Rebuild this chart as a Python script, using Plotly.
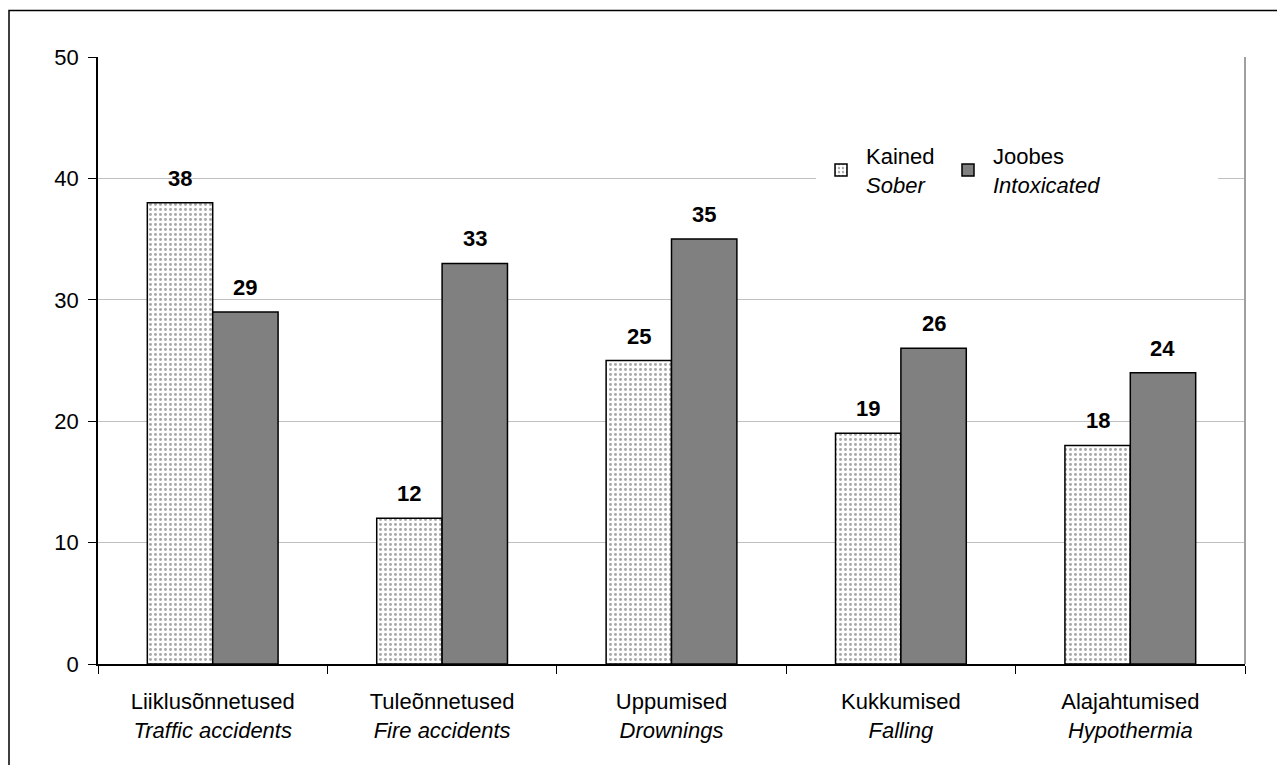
import plotly.graph_objects as go

categories = [
    "Liiklusõnnetused<br><i>Traffic accidents</i>",
    "Tuleõnnetused<br><i>Fire accidents</i>",
    "Uppumised<br><i>Drownings</i>",
    "Kukkumised<br><i>Falling</i>",
    "Alajahtumised<br><i>Hypothermia</i>",
]
sober = [38, 12, 25, 19, 18]
intoxicated = [29, 33, 35, 26, 24]
series_names = ["Kained<br><i>Sober</i>", "Joobes<br><i>Intoxicated</i>"]
y_ticks = [0, 10, 20, 30, 40, 50]

W, H = 1285, 765
L, R, T, B = 90, 48, 49, 109
pw, ph = W - L - R, H - T - B
BARGAP = 0.43

font = "Liberation Sans, Arial, sans-serif"
FS = 22

fig = go.Figure()
fig.add_trace(go.Bar(
    x=categories, y=sober, name=series_names[0], legend="legend",
    marker=dict(color="white", line=dict(color="black", width=1.5),
                pattern=dict(shape=".", fgcolor="#505050", bgcolor="white", size=5, solidity=0.28)),
))
fig.add_trace(go.Bar(
    x=categories, y=intoxicated, name=series_names[1], legend="legend2",
    marker=dict(color="#808080", line=dict(color="black", width=1.5)),
))

# value labels above bars (offset from category centre by half a bar)
cat_px = pw / len(categories)
bar_px = cat_px * (1 - BARGAP) / 2
annotations = []
for series, sign in ((sober, -1), (intoxicated, 1)):
    for cat, val in zip(categories, series):
        annotations.append(dict(
            x=cat, y=val, xref="x", yref="y", text=f"<b>{val}</b>",
            showarrow=False, xshift=sign * bar_px / 2, yshift=10,
            yanchor="bottom", xanchor="center",
            font=dict(size=FS, family=font, color="black"),
        ))

def px_to_paper_x(px):
    return (px - L) / pw

def px_to_paper_y(py):
    return 1 - (py - T) / ph

legend_common = dict(
    orientation="h", xanchor="left", yanchor="top",
    bgcolor="white", borderwidth=0,
    font=dict(size=FS, family=font, color="black"),
    itemwidth=40, entrywidthmode="pixels",
)

fig.update_layout(
    width=W, height=H,
    margin=dict(l=L, r=R, t=T, b=B),
    paper_bgcolor="white", plot_bgcolor="white",
    barmode="group", bargap=BARGAP, bargroupgap=0,
    font=dict(family=font, size=FS, color="black"),
    showlegend=True,
    legend=dict(x=px_to_paper_x(808), y=px_to_paper_y(127), entrywidth=74, **legend_common),
    legend2=dict(x=px_to_paper_x(935), y=px_to_paper_y(127), entrywidth=220, **legend_common),
    annotations=annotations,
    xaxis=dict(
        showline=True, linecolor="black", linewidth=1.5,
        ticks="outside", tickson="boundaries", ticklen=8, tickcolor="black",
        tickfont=dict(size=FS, family=font, color="black"),
        ticklabelstandoff=17,
        showgrid=False, mirror=False,
    ),
    yaxis=dict(
        range=[0, 50], tickvals=y_ticks,
        showline=True, linecolor="black", linewidth=1.5,
        ticks="outside", ticklen=8, tickcolor="black",
        tickfont=dict(size=FS, family=font, color="black"),
        ticklabelstandoff=5,
        showgrid=True, gridcolor="#c0c0c0", gridwidth=1.2,
        zeroline=False,
    ),
    shapes=[
        # plot-area right border
        dict(type="line", xref="paper", yref="paper", x0=1, x1=1, y0=0, y1=1,
             line=dict(color="#a0a0a0", width=2)),
        # outer frame
        dict(type="rect", xref="paper", yref="paper",
             x0=px_to_paper_x(1), x1=px_to_paper_x(1300),
             y0=px_to_paper_y(790), y1=px_to_paper_y(2.5),
             line=dict(color="black", width=1.5), fillcolor="rgba(0,0,0,0)", layer="below"),
    ],
)

fig.write_html("out.html")
